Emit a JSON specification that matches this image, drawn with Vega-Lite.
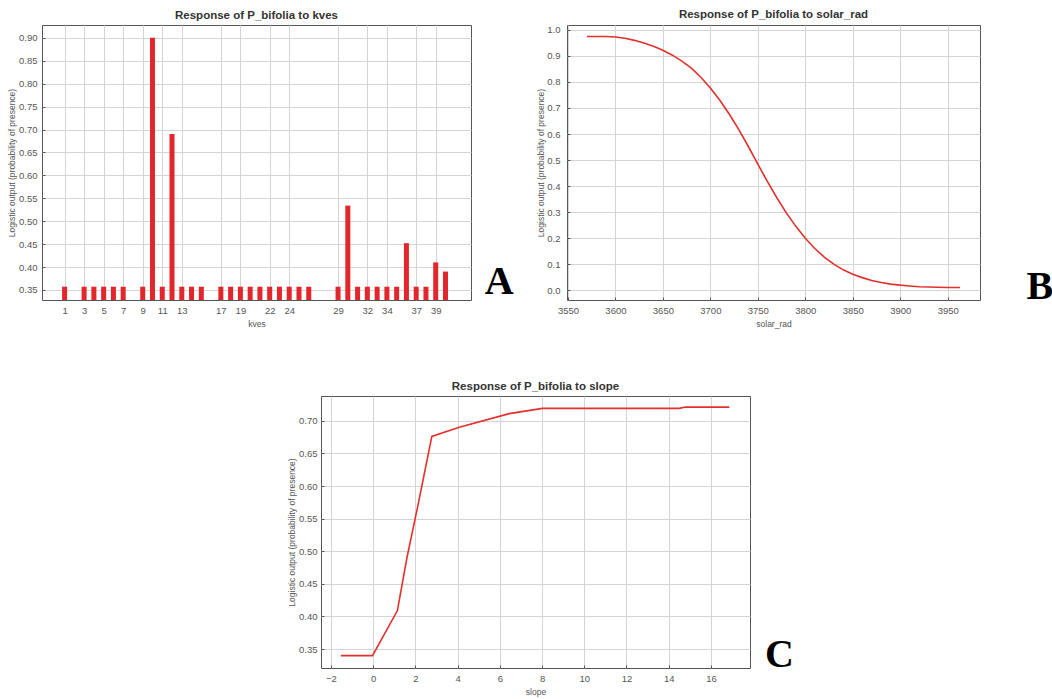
{
  "$schema": "https://vega.github.io/schema/vega-lite/v6.json",
  "background": "white",
  "padding": {"left": 7, "top": 8, "right": 0, "bottom": 0},
  "config": {
    "font": "Liberation Sans",
    "view": {"stroke": "#555555", "strokeWidth": 1},
    "axis": {"gridColor": "#d4d4d4", "gridWidth": 1, "domain": false, "ticks": true, "tickSize": -3, "tickColor": "#555555", "tickCount": 100, "labelOverlap": false, "labelFlush": false, "labelFontSize": 9.5, "labelColor": "#555555", "titleFontSize": 8.5, "titleFontWeight": "normal", "titleColor": "#555555"},
    "axisX": {"labelPadding": 8, "titlePadding": 5},
    "axisY": {"labelPadding": 8, "titlePadding": 2},
    "title": {"fontSize": 11.5, "fontWeight": "bold", "color": "#333333", "offset": 4}
  },
  "datasets": {
    "kves": [
      {"kves": 1, "p": 0.357}, {"kves": 3, "p": 0.357}, {"kves": 4, "p": 0.357}, {"kves": 5, "p": 0.357}, {"kves": 6, "p": 0.357}, {"kves": 7, "p": 0.357},
      {"kves": 9, "p": 0.357}, {"kves": 10, "p": 0.9}, {"kves": 11, "p": 0.357}, {"kves": 12, "p": 0.69}, {"kves": 13, "p": 0.357}, {"kves": 14, "p": 0.357}, {"kves": 15, "p": 0.357},
      {"kves": 17, "p": 0.357}, {"kves": 18, "p": 0.357}, {"kves": 19, "p": 0.357}, {"kves": 20, "p": 0.357}, {"kves": 21, "p": 0.357}, {"kves": 22, "p": 0.357}, {"kves": 23, "p": 0.357}, {"kves": 24, "p": 0.357}, {"kves": 25, "p": 0.357}, {"kves": 26, "p": 0.357},
      {"kves": 29, "p": 0.357}, {"kves": 30, "p": 0.534}, {"kves": 31, "p": 0.357}, {"kves": 32, "p": 0.357}, {"kves": 33, "p": 0.357}, {"kves": 34, "p": 0.357}, {"kves": 35, "p": 0.357}, {"kves": 36, "p": 0.452}, {"kves": 37, "p": 0.357}, {"kves": 38, "p": 0.357}, {"kves": 39, "p": 0.41}, {"kves": 40, "p": 0.39}
    ],
    "solar": [
      {"solar_rad": 3570, "p": 0.975}, {"solar_rad": 3580, "p": 0.975}, {"solar_rad": 3590, "p": 0.975}, {"solar_rad": 3600, "p": 0.973},
      {"solar_rad": 3610, "p": 0.968}, {"solar_rad": 3620, "p": 0.96}, {"solar_rad": 3630, "p": 0.95}, {"solar_rad": 3640, "p": 0.937},
      {"solar_rad": 3650, "p": 0.922}, {"solar_rad": 3660, "p": 0.903}, {"solar_rad": 3670, "p": 0.88}, {"solar_rad": 3680, "p": 0.853},
      {"solar_rad": 3690, "p": 0.818}, {"solar_rad": 3700, "p": 0.777}, {"solar_rad": 3710, "p": 0.73}, {"solar_rad": 3720, "p": 0.676},
      {"solar_rad": 3730, "p": 0.617}, {"solar_rad": 3740, "p": 0.552}, {"solar_rad": 3750, "p": 0.484}, {"solar_rad": 3760, "p": 0.418},
      {"solar_rad": 3770, "p": 0.355}, {"solar_rad": 3780, "p": 0.297}, {"solar_rad": 3790, "p": 0.245}, {"solar_rad": 3800, "p": 0.199},
      {"solar_rad": 3810, "p": 0.16}, {"solar_rad": 3820, "p": 0.127}, {"solar_rad": 3830, "p": 0.1}, {"solar_rad": 3840, "p": 0.078},
      {"solar_rad": 3850, "p": 0.061}, {"solar_rad": 3860, "p": 0.048}, {"solar_rad": 3870, "p": 0.037}, {"solar_rad": 3880, "p": 0.029},
      {"solar_rad": 3890, "p": 0.023}, {"solar_rad": 3900, "p": 0.019}, {"solar_rad": 3910, "p": 0.016}, {"solar_rad": 3920, "p": 0.013},
      {"solar_rad": 3930, "p": 0.012}, {"solar_rad": 3940, "p": 0.011}, {"solar_rad": 3950, "p": 0.01}, {"solar_rad": 3963, "p": 0.01}
    ],
    "slope": [
      {"slope": -1.53, "p": 0.34}, {"slope": -0.03, "p": 0.34}, {"slope": 1.15, "p": 0.409}, {"slope": 1.6, "p": 0.49},
      {"slope": 2.1, "p": 0.567}, {"slope": 2.78, "p": 0.676}, {"slope": 4.08, "p": 0.69}, {"slope": 6.45, "p": 0.711},
      {"slope": 8.02, "p": 0.719}, {"slope": 14.5, "p": 0.719}, {"slope": 14.8, "p": 0.721}, {"slope": 16.87, "p": 0.721}
    ]
  },
  "bounds": "full",
  "spacing": 51,
  "vconcat": [
    {
      "bounds": "flush",
      "spacing": 96,
      "hconcat": [
        {
          "width": 429,
          "height": 275,
          "title": "Response of P_bifolia to kves",
          "layer": [
            {
              "data": {"name": "kves"},
              "mark": {"type": "bar", "color": "#e3262b", "size": 5, "clip": true},
              "encoding": {
                "x": {"field": "kves", "type": "quantitative", "scale": {"domain": [-0.8, 42.1], "nice": false, "zero": false},
                  "axis": {"title": "kves", "values": [1, 3, 5, 7, 9, 11, 13, 17, 19, 22, 24, 29, 32, 34, 37, 39], "format": "d"}},
                "y": {"field": "p", "type": "quantitative", "scale": {"domain": [0.328, 0.928], "nice": false, "zero": false},
                  "axis": {"title": "Logistic output (probability of presence)", "values": [0.35, 0.4, 0.45, 0.5, 0.55, 0.6, 0.65, 0.7, 0.75, 0.8, 0.85, 0.9], "format": ".2f"}},
                "y2": {"datum": 0.328}
              }
            },
            {
              "data": {"values": [{"kves": 45.5, "p": 0.341, "letter": "A"}]},
              "mark": {"type": "text", "font": "Liberation Serif", "fontWeight": "bold", "fontSize": 40, "baseline": "alphabetic", "align": "center", "color": "#000000"},
              "encoding": {
                "x": {"field": "kves", "type": "quantitative"},
                "y": {"field": "p", "type": "quantitative"},
                "text": {"field": "letter"}
              }
            }
          ]
        },
        {
          "width": 413,
          "height": 275,
          "title": "Response of P_bifolia to solar_rad",
          "layer": [
            {
              "data": {"name": "solar"},
              "mark": {"type": "line", "color": "#e3302c", "strokeWidth": 1.6, "clip": true},
              "encoding": {
                "x": {"field": "solar_rad", "type": "quantitative", "scale": {"domain": [3549, 3984], "nice": false, "zero": false},
                  "axis": {"title": "solar_rad", "values": [3550, 3600, 3650, 3700, 3750, 3800, 3850, 3900, 3950], "format": "d"}},
                "y": {"field": "p", "type": "quantitative", "scale": {"domain": [-0.038, 1.019], "nice": false, "zero": false},
                  "axis": {"title": "Logistic output (probability of presence)", "values": [0, 0.1, 0.2, 0.3, 0.4, 0.5, 0.6, 0.7, 0.8, 0.9, 1.0], "format": ".1f", "labelPadding": 10, "titlePadding": 1}}
              }
            },
            {
              "data": {"values": [{"solar_rad": 4047, "p": -0.035, "letter": "B"}]},
              "mark": {"type": "text", "font": "Liberation Serif", "fontWeight": "bold", "fontSize": 40, "baseline": "alphabetic", "align": "center", "color": "#000000"},
              "encoding": {
                "x": {"field": "solar_rad", "type": "quantitative"},
                "y": {"field": "p", "type": "quantitative"},
                "text": {"field": "letter"}
              }
            }
          ]
        }
      ]
    },
    {
      "bounds": "flush",
      "spacing": 0,
      "hconcat": [
        {
          "width": 279,
          "height": 272,
          "view": {"stroke": null},
          "data": {"values": [{"t": ""}]},
          "mark": {"type": "text"},
          "encoding": {"text": {"field": "t"}}
        },
        {
          "width": 429,
          "height": 272,
          "title": "Response of P_bifolia to slope",
          "layer": [
            {
              "data": {"name": "slope"},
              "mark": {"type": "line", "color": "#e3302c", "strokeWidth": 1.6, "clip": true},
              "encoding": {
                "x": {"field": "slope", "type": "quantitative", "scale": {"domain": [-2.47, 17.85], "nice": false, "zero": false},
                  "axis": {"title": "slope", "values": [-2, 0, 2, 4, 6, 8, 10, 12, 14, 16], "format": "d"}},
                "y": {"field": "p", "type": "quantitative", "scale": {"domain": [0.321, 0.738], "nice": false, "zero": false},
                  "axis": {"title": "Logistic output (probability of presence)", "values": [0.35, 0.4, 0.45, 0.5, 0.55, 0.6, 0.65, 0.7], "format": ".2f", "labelPadding": 7}}
              }
            },
            {
              "data": {"values": [{"slope": 19.24, "p": 0.322, "letter": "C"}]},
              "mark": {"type": "text", "font": "Liberation Serif", "fontWeight": "bold", "fontSize": 40, "baseline": "alphabetic", "align": "center", "color": "#000000"},
              "encoding": {
                "x": {"field": "slope", "type": "quantitative"},
                "y": {"field": "p", "type": "quantitative"},
                "text": {"field": "letter"}
              }
            }
          ]
        }
      ]
    }
  ]
}
